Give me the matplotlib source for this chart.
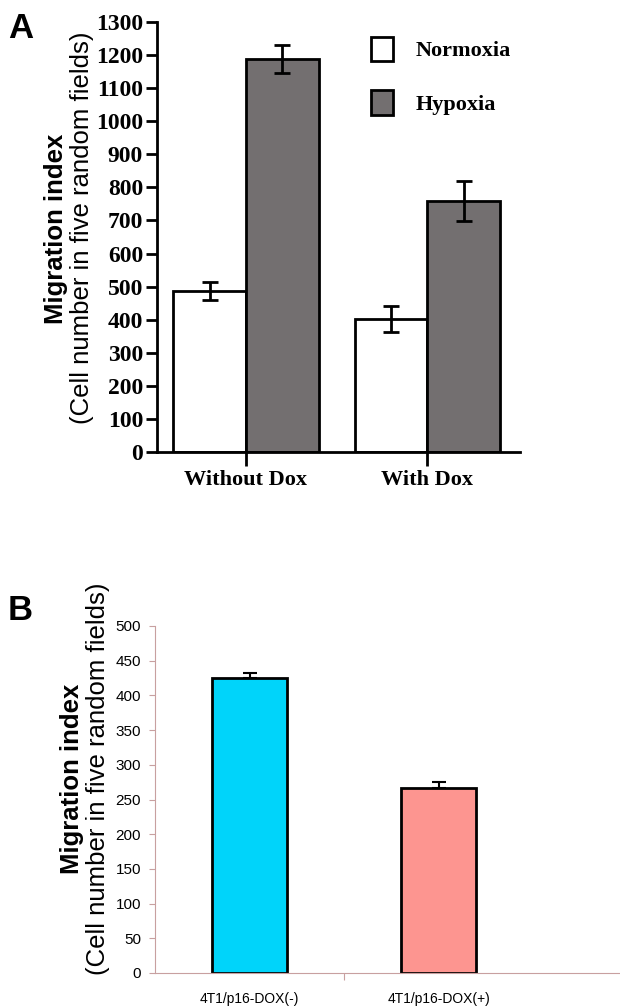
import matplotlib.pyplot as plt
import numpy as np

# panel A data
groups_a = ['Without Dox', 'With Dox']
normoxia = [487, 402]
normoxia_err = [26, 40]
hypoxia = [1187, 758]
hypoxia_err = [42, 60]
yticks_a = list(range(0, 1301, 100))

# panel B data
groups_b = ['4T1/p16-DOX(-)', '4T1/p16-DOX(+)']
migration_b = [425, 267]
migration_b_err = [7, 8]
yticks_b = list(range(0, 501, 50))

W, H = 620, 1006
fig = plt.figure(figsize=(W / 100, H / 100), dpi=100)

# ---- panel A ----
axA = fig.add_axes([157 / W, (H - 452) / H, (520 - 157) / W, 430 / H])
x = np.arange(len(groups_a))
bw = 0.4
axA.bar(x - bw / 2, normoxia, bw, color='white', edgecolor='black', linewidth=2, label='Normoxia', zorder=2)
axA.bar(x + bw / 2, hypoxia, bw, color='#736f70', edgecolor='black', linewidth=2, label='Hypoxia', zorder=2)
axA.errorbar(x - bw / 2, normoxia, yerr=normoxia_err, fmt='none', ecolor='black',
             elinewidth=2, capsize=5.5, capthick=2, zorder=3)
axA.errorbar(x + bw / 2, hypoxia, yerr=hypoxia_err, fmt='none', ecolor='black',
             elinewidth=2, capsize=5.5, capthick=2, zorder=3)
axA.set_xlim(-0.49, 1.51)
axA.set_ylim(0, 1300)
axA.set_yticks(yticks_a)
axA.set_xticks(x)
axA.set_xticklabels(groups_a)
for s in ['top', 'right']:
    axA.spines[s].set_visible(False)
for s in ['left', 'bottom']:
    axA.spines[s].set_linewidth(2)
axA.tick_params(axis='y', length=8, width=2, pad=2)
axA.tick_params(axis='x', length=10, width=2, pad=3)
for lab in axA.get_yticklabels():
    lab.set_fontfamily('Liberation Serif')
    lab.set_fontweight('bold')
    lab.set_fontsize(17)
for lab in axA.get_xticklabels():
    lab.set_fontfamily('Liberation Serif')
    lab.set_fontweight('bold')
    lab.set_fontsize(16)
leg = axA.legend(loc='upper right', bbox_to_anchor=(1.03, 1.012), frameon=False,
                 prop={'family': 'Liberation Serif', 'weight': 'bold', 'size': 16},
                 handlelength=1.0, handleheight=1.3, labelspacing=1.3, handletextpad=1.0)
for p in leg.get_patches():
    p.set_linewidth(2)

fig.text(56 / W, 1 - 229 / H, 'Migration index', rotation=90, ha='center', va='center',
         fontsize=18.5, fontweight='bold', family='Liberation Sans')
fig.text(82 / W, 1 - 228 / H, '(Cell number in five random fields)', rotation=90,
         ha='center', va='center', fontsize=18.5, family='Liberation Sans')
fig.text(21 / W, 1 - 28 / H, 'A', ha='center', va='center', fontsize=25,
         fontweight='bold', family='Liberation Sans')

# ---- panel B ----
axis_col = '#c8a0a0'
axB = fig.add_axes([155 / W, (H - 973) / H, (620 - 155) / W, 347 / H])
xb = np.arange(len(groups_b))
axB.bar(xb, migration_b, 0.4, color=['#00d4fa', '#fd9590'], edgecolor='black', linewidth=2, zorder=2)
axB.errorbar(xb, migration_b, yerr=[[0, 0], migration_b_err], fmt='none', ecolor='black',
             elinewidth=1.5, capsize=5, capthick=1.5, zorder=3)
axB.set_xlim(-0.5, -0.5 + 465 / 189)
axB.set_ylim(0, 500)
axB.set_yticks(yticks_b)
axB.set_xticks(xb)
axB.set_xticklabels(groups_b, fontsize=10, family='Liberation Sans')
axB.set_xticks([0.5], minor=True)
for s in ['top', 'right']:
    axB.spines[s].set_visible(False)
for s in ['left', 'bottom']:
    axB.spines[s].set_color(axis_col)
    axB.spines[s].set_linewidth(0.8)
axB.tick_params(axis='y', length=4, width=0.8, color=axis_col, labelsize=11, pad=6)
axB.tick_params(axis='x', which='major', length=0, pad=14)
axB.tick_params(axis='x', which='minor', length=5, width=0.8, color=axis_col)
for lab in axB.get_yticklabels():
    lab.set_fontfamily('Liberation Sans')

fig.text(72 / W, 1 - 779 / H, 'Migration index', rotation=90, ha='center', va='center',
         fontsize=18.5, fontweight='bold', family='Liberation Sans')
fig.text(98 / W, 1 - 779 / H, '(Cell number in five random fields)', rotation=90,
         ha='center', va='center', fontsize=18.5, family='Liberation Sans')
fig.text(20 / W, 1 - 610 / H, 'B', ha='center', va='center', fontsize=25,
         fontweight='bold', family='Liberation Sans')

fig.savefig('out.png', dpi=100)
